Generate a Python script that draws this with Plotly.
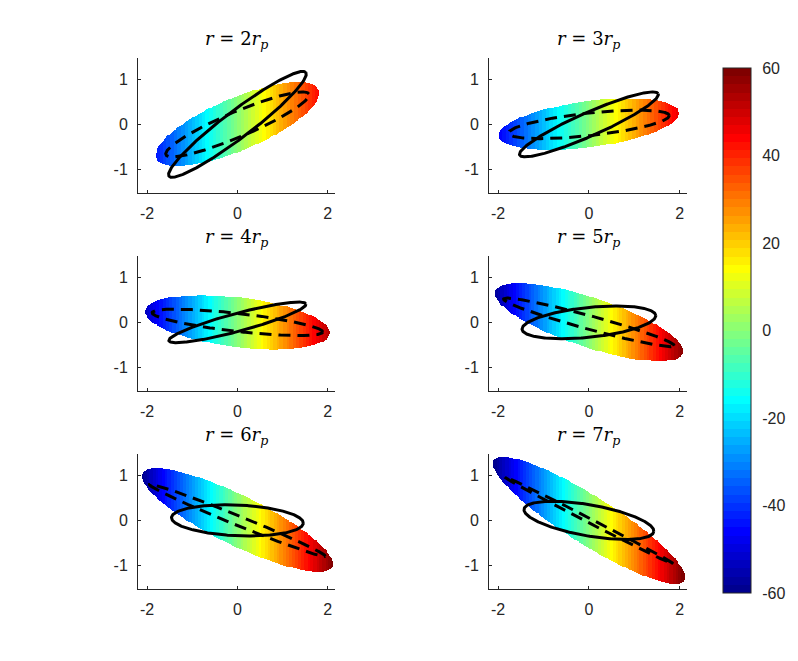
import numpy as np
import plotly.graph_objects as go

# ---------------- data ----------------
r_factor = [2, 3, 4, 5, 6, 7]

# coloured disk (filled ellipse): semi-major, semi-minor, position angle (deg)
disk_a = [1.95, 2.00, 2.06, 2.18, 2.34, 2.49]
disk_b = [0.58, 0.51, 0.55, 0.55, 0.55, 0.53]
disk_ang = [23.0, 7.5, -7.0, -18.5, -26.3, -32.5]
# colour gradient of the disk (value per unit x)
vel_grad = [24.0, 23.5, 26.0, 28.0, 28.0, 28.5]

# solid black ellipse
sol_a = [1.90, 1.67, 1.57, 1.48, 1.46, 1.45]
sol_b = [0.30, 0.26, 0.20, 0.33, 0.34, 0.345]
sol_ang = [37.2, 24.0, 15.0, 6.0, -2.5, -10.0]

# dashed black ellipse
dsh_a = [1.72, 1.78, 1.90, 1.95, 2.10, 2.09]
dsh_b = [0.28, 0.25, 0.20, 0.15, 0.106, 0.05]
dsh_ang = [23.0, 6.3, -6.5, -15.4, -22.2, -27.4]

x_ticks = [-2, 0, 2]
y_ticks = [-1, 0, 1]
cbar_ticks = [-60, -40, -20, 0, 20, 40, 60]
x_range = [-2.2, 2.16]
y_range = [-1.52, 1.47]

# ---------------- helpers ----------------
def matlab_jet(m=64):
    n = int(np.ceil(m / 4))
    u = np.concatenate([np.arange(1, n + 1) / n, np.ones(n - 1), np.arange(n, 0, -1) / n])
    g = int(np.ceil(n / 2)) - (1 if m % 4 == 1 else 0) + np.arange(1, len(u) + 1)
    r = g + n
    b = g - n
    g = g[g <= m]
    r = r[r <= m]
    b = b[b >= 1]
    J = np.zeros((m, 3))
    J[r - 1, 0] = u[:len(r)]
    J[g - 1, 1] = u[:len(g)]
    J[b - 1, 2] = u[len(u) - len(b):]
    return J

J = matlab_jet(64)
cscale = []
for i, c in enumerate(J):
    col = "rgb(%d,%d,%d)" % tuple(int(round(v * 255)) for v in c)
    cscale.append([i / 64, col])
    cscale.append([(i + 1) / 64, col])


def ellipse(a, b, ang, n=361):
    t = np.linspace(0, 2 * np.pi, n)
    th = np.deg2rad(ang)
    x = a * np.cos(t) * np.cos(th) - b * np.sin(t) * np.sin(th)
    y = a * np.cos(t) * np.sin(th) + b * np.sin(t) * np.cos(th)
    return x, y

W, H = 798, 661
col_px = [(138, 335), (489, 687)]
row_px = [(58, 193), (256, 391), (454, 589)]

axis_col = "#262626"
tick_font = dict(family="Liberation Sans, Arial, sans-serif", size=16, color=axis_col)

fig = go.Figure()
layout = dict(
    width=W, height=H, margin=dict(l=0, r=0, t=0, b=0),
    paper_bgcolor="white", plot_bgcolor="white", showlegend=False,
    annotations=[],
    coloraxis=dict(
        colorscale=cscale, cmin=-60, cmax=60,
        colorbar=dict(
            x=723 / W, xanchor="left", xpad=0, ypad=0,
            y=1 - (68 + 593) / 2 / H, yanchor="middle",
            len=525, lenmode="pixels", thickness=28, thicknessmode="pixels",
            outlinewidth=1, outlinecolor=axis_col,
            tickvals=cbar_ticks, ticktext=[str(t) for t in cbar_ticks],
            ticks="outside", ticklen=8, tickcolor="rgba(255,255,255,0)", tickwidth=1,
            tickfont=tick_font,
        ),
    ),
)

xs = np.arange(x_range[0], x_range[1] + 1e-9, 0.02)
ys = np.arange(y_range[0], y_range[1] + 1e-9, 0.02)
XX, YY = np.meshgrid(xs, ys)

for i, rf in enumerate(r_factor):
    row, col = i // 2, i % 2
    k = i + 1
    xa = "x" if k == 1 else "x%d" % k
    ya = "y" if k == 1 else "y%d" % k

    th = np.deg2rad(disk_ang[i])
    u = XX * np.cos(th) + YY * np.sin(th)
    v = -XX * np.sin(th) + YY * np.cos(th)
    inside = (u / disk_a[i]) ** 2 + (v / disk_b[i]) ** 2 <= 1
    Z = np.where(inside, vel_grad[i] * XX, np.nan)
    zlist = [[None if np.isnan(z) else round(float(z), 2) for z in zr] for zr in Z]
    fig.add_trace(go.Heatmap(x=xs.tolist(), y=ys.tolist(), z=zlist, coloraxis="coloraxis",
                             zsmooth=False, hoverinfo="skip", xaxis=xa, yaxis=ya))

    dx, dy = ellipse(dsh_a[i], dsh_b[i], dsh_ang[i])
    fig.add_trace(go.Scatter(x=dx, y=dy, mode="lines", xaxis=xa, yaxis=ya,
                             line=dict(color="black", width=3, dash="12px,7px")))
    sx, sy = ellipse(sol_a[i], sol_b[i], sol_ang[i])
    fig.add_trace(go.Scatter(x=sx, y=sy, mode="lines", xaxis=xa, yaxis=ya,
                             line=dict(color="black", width=3)))

    x0, x1 = col_px[col]
    y0, y1 = row_px[row]
    common = dict(showline=True, linecolor=axis_col, linewidth=1, mirror=False,
                  ticks="inside", ticklen=3, tickcolor=axis_col, tickwidth=1,
                  showgrid=False, zeroline=False, tickfont=tick_font, fixedrange=True)
    layout["xaxis" if k == 1 else "xaxis%d" % k] = dict(
        domain=[x0 / W, x1 / W], range=x_range, anchor=ya,
        tickvals=x_ticks, ticktext=[str(t) for t in x_ticks], ticklabelstandoff=6, **common)
    layout["yaxis" if k == 1 else "yaxis%d" % k] = dict(
        domain=[1 - y1 / H, 1 - y0 / H], range=y_range, anchor=xa,
        tickvals=y_ticks, ticktext=[str(t) for t in y_ticks], ticklabelstandoff=6, **common)

    layout["annotations"].append(dict(
        x=(x0 + x1) / 2 / W, y=1 - (y0 - 18) / H, xref="paper", yref="paper",
        xanchor="center", yanchor="middle", showarrow=False,
        text="<i>r</i> = %d<i>r</i><sub><i>p</i></sub>" % rf,
        font=dict(family="DejaVu Serif, serif", size=18, color="black")))

fig.update_layout(**layout)
fig.write_html("out.html")
